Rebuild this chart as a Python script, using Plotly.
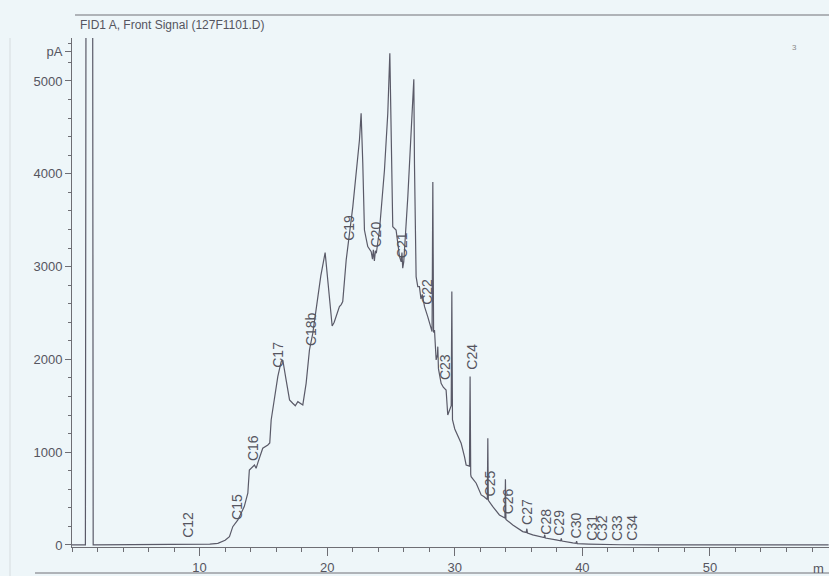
import plotly.graph_objects as go

# ---------------- data ----------------
time_min = [0.0, 1.05, 1.12, 1.60, 1.66, 3.0, 6.0, 9.0, 10.8, 11.43, 12.0, 12.34, 12.6, 13.0,
            13.5, 13.78, 13.9, 14.3, 14.43, 14.6, 14.95, 15.35, 15.5, 15.61, 16.13, 16.39,
            16.52, 16.78, 17.05, 17.3, 17.5, 17.7, 17.9, 18.09, 18.35, 18.61, 18.87, 19.14,
            19.5, 19.84, 20.18, 20.39, 20.55, 20.7, 20.96, 21.1, 21.22, 21.49, 22.01, 22.53,
            22.66, 22.79, 22.92, 23.18, 23.45, 23.55, 23.62, 23.7, 23.78, 23.85, 24.1, 24.49,
            24.75, 24.91, 25.01, 25.14, 25.4, 25.67, 25.8, 25.86, 25.92, 26.0, 26.32, 26.58,
            26.79, 26.84, 26.97, 27.1, 27.23, 27.35, 27.45, 27.63, 27.75, 27.88, 28.05, 28.22,
            28.28, 28.34, 28.41, 28.54, 28.64, 28.67, 28.72, 28.93, 29.1, 29.32, 29.45, 29.72,
            29.77, 29.82, 30.0, 30.24, 30.5, 30.76, 30.89, 31.15, 31.2, 31.25, 31.28, 31.68,
            32.07, 32.3, 32.55, 32.59, 32.63, 32.98, 33.5, 33.93, 33.97, 34.01, 34.55, 35.33,
            35.6, 35.65, 35.7, 36.11, 36.64, 37.0, 37.05, 37.1, 37.94, 38.3, 38.35, 38.4,
            39.25, 39.5, 39.55, 39.6, 40.5, 41.3, 43.0, 46.0, 50.0, 55.0, 59.3]

signal_pA = [0, 0, 9000, 9000, 0, 0, 0, 5, 8, 18, 50, 90, 197, 270,
             413, 557, 808, 862, 826, 900, 1042, 1078, 1100, 1347, 1814, 1975,
             1993, 1778, 1563, 1527, 1500, 1544, 1530, 1509, 1742, 2101, 2281, 2568,
             2900, 3150, 2676, 2360, 2400, 2460, 2568, 2590, 2622, 3071, 3646, 4364,
             4652, 4113, 3394, 3215, 3161, 3080, 3180, 3060, 3170, 3143, 3394, 4041,
             4652, 5298, 4472, 3430, 3394, 3107, 3050, 3150, 2982, 3050, 3753, 4472,
             5018, 4113, 2891, 2783, 2783, 2650, 2700, 2568, 2500, 2460, 2380, 2300,
             3910, 2290, 2317, 1994, 2050, 2137, 1900, 1742, 1700, 1670, 1401, 1500,
             2730, 1350, 1250, 1167, 1096, 952, 862, 850, 1814, 760, 736, 665,
             539, 520, 490, 1150, 480, 413, 323, 290, 708, 275, 216, 144,
             135, 175, 128, 108, 90, 80, 110, 75, 54, 45, 70, 42,
             22, 18, 40, 15, 10, 5, 2, 0, 0, 0, 0]

peak_names = ["C12", "C15", "C16", "C17", "C18b", "C19", "C20", "C21", "C22", "C23", "C24",
              "C25", "C26", "C27", "C28", "C29", "C30", "C31", "C32", "C33", "C34"]
peak_label_time = [9.08, 12.87, 14.17, 16.13, 18.74, 21.75, 23.79, 25.88, 27.76, 29.19, 31.28,
                   32.77, 34.15, 35.6, 37.08, 38.15, 39.46, 40.74, 41.55, 42.73, 43.87]
peak_label_pA = [54, 251, 880, 1886, 2123, 3251, 3179, 3071, 2568, 1760, 1868,
                 503, 305, 197, 90, 75, 54, 22, 22, 22, 22]

y_tick_vals = [0, 1000, 2000, 3000, 4000, 5000, 5320]
y_tick_text = ["0", "1000", "2000", "3000", "4000", "5000", "pA"]
x_tick_vals = [10, 20, 30, 40, 50]
x_tick_text = ["10", "20", "30", "40", "50"]

title_text = "FID1 A, Front Signal (127F1101.D)"
x_unit_text = "m"  # only the first letter of "min" is visible at the scan's edge

# ---------------- styling ----------------
BG = "#eef6f9"
INK = "#55555f"
AX = "#6e6e74"
SANS = "Liberation Sans, Arial, sans-serif"

fig = go.Figure()
fig.add_trace(go.Scatter(x=time_min, y=signal_pA, mode="lines",
                         line=dict(color="#5a5a68", width=1.2),
                         hoverinfo="skip", showlegend=False))

annotations = []
for name, t, v in zip(peak_names, peak_label_time, peak_label_pA):
    annotations.append(dict(x=t, y=v, xref="x", yref="y", text=name, showarrow=False,
                            textangle=-90, xanchor="center", yanchor="bottom",
                            font=dict(family=SANS, size=14, color=INK)))

annotations.append(dict(x=0.0079, y=1.0265, xref="paper", yref="paper", text=title_text,
                        showarrow=False, xanchor="left", yanchor="middle",
                        font=dict(family=SANS, size=12, color=INK)))
annotations.append(dict(x=0.996, y=-0.043, xref="paper", yref="paper", text=x_unit_text,
                        showarrow=False, xanchor="right", yanchor="middle",
                        font=dict(family=SANS, size=13, color=INK)))
annotations.append(dict(x=0.955, y=0.982, xref="paper", yref="paper", text="3",
                        showarrow=False, xanchor="center", yanchor="middle",
                        font=dict(family=SANS, size=8, color="#888")))

shapes = [
    dict(type="line", xref="paper", yref="paper", x0=0.004, x1=1.0, y0=1.0452, y1=1.0452,
         line=dict(color="#707078", width=1.2)),
    dict(type="line", xref="paper", yref="paper", x0=-0.0489, x1=1.0, y0=-0.0511, y1=-0.0511,
         line=dict(color="#707078", width=1.2)),
    dict(type="line", xref="paper", yref="paper", x0=-0.0819, x1=-0.0819, y0=-0.06, y1=1.0,
         line=dict(color="#d6dcdf", width=1)),
]

fig.update_layout(
    width=829, height=576,
    margin=dict(l=72, r=0, t=38, b=29),
    paper_bgcolor=BG, plot_bgcolor=BG,
    annotations=annotations, shapes=shapes,
    xaxis=dict(range=[0, 59.33], showgrid=False, zeroline=False,
               showline=True, linecolor=AX, linewidth=1,
               tickmode="array", tickvals=x_tick_vals, ticktext=x_tick_text,
               ticks="outside", ticklen=8, tickcolor=AX, tickwidth=1,
               minor=dict(dtick=2, tick0=0, ticks="outside", ticklen=4, tickcolor=AX),
               tickfont=dict(family=SANS, size=13, color=INK)),
    yaxis=dict(range=[-22, 5463], showgrid=False, zeroline=False,
               showline=True, linecolor=AX, linewidth=1,
               tickmode="array", tickvals=y_tick_vals, ticktext=y_tick_text,
               ticks="outside", ticklen=6, tickcolor=AX, tickwidth=1,
               minor=dict(dtick=200, tick0=0, ticks="outside", ticklen=3, tickcolor=AX),
               tickfont=dict(family=SANS, size=13, color=INK)),
)

fig.write_html("out.html",
               config={"displayModeBar": False, "staticPlot": True},
               post_script="document.body.style.margin='0';"
                           "document.body.style.background='" + BG + "';")
